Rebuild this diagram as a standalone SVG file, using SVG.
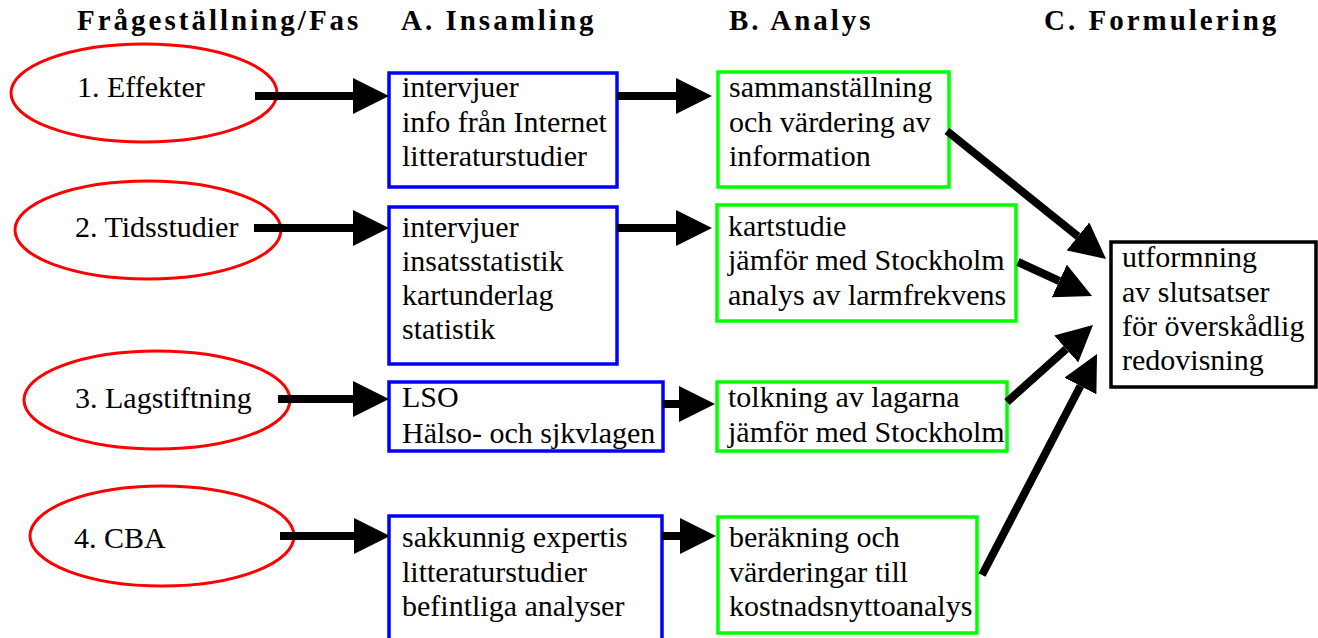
<svg xmlns="http://www.w3.org/2000/svg" width="1318" height="638" viewBox="0 0 1318 638">
<defs>
<style>
.hdr{font-family:'Liberation Serif','DejaVu Serif',serif;font-weight:bold;font-size:29px;letter-spacing:3px;fill:#000}
.t{font-family:'Liberation Serif','DejaVu Serif',serif;font-size:30px;fill:#000}
.ell{fill:#fff;stroke:#f00;stroke-width:3}
.boxA{fill:#fff;stroke:#00f;stroke-width:3.5}
.boxB{fill:#fff;stroke:#0f0;stroke-width:3.5}
.boxC{fill:#fff;stroke:#000;stroke-width:3.5}
.conn line{stroke:#000;stroke-width:8;marker-end:url(#ah)}
</style>
<marker id="ah" markerUnits="userSpaceOnUse" markerWidth="36" markerHeight="36" refX="0" refY="18" orient="auto" viewBox="0 0 36 36">
<path d="M0,0 L36,18 L0,36 Z" fill="#000"/>
</marker>
</defs>
<rect width="1318" height="638" fill="#fff"/>
<g id="headers">
<text class="hdr" x="77" y="30">Frågeställning/Fas</text>
<text class="hdr" x="401" y="30">A. Insamling</text>
<text class="hdr" x="729" y="30">B. Analys</text>
<text class="hdr" x="1044" y="30">C. Formulering</text>
</g>
<g id="q1"><ellipse class="ell" cx="144" cy="93" rx="133" ry="49"/><text class="t" x="77" y="97">1. Effekter</text></g>
<g id="q2"><ellipse class="ell" cx="148" cy="230" rx="133" ry="49"/><text class="t" x="75" y="237">2. Tidsstudier</text></g>
<g id="q3"><ellipse class="ell" cx="157" cy="400" rx="133" ry="49"/><text class="t" x="75" y="408">3. Lagstiftning</text></g>
<g id="q4"><ellipse class="ell" cx="162" cy="536" rx="132" ry="50"/><text class="t" x="74" y="548">4. CBA</text></g>
<g id="a1"><rect class="boxA" x="389" y="73" width="228" height="114"/><text class="t"><tspan x="402" y="97">intervjuer</tspan><tspan x="402" y="132">info från Internet</tspan><tspan x="402" y="166">litteraturstudier</tspan></text></g>
<g id="a2"><rect class="boxA" x="389" y="207" width="228" height="157"/><text class="t"><tspan x="402" y="237">intervjuer</tspan><tspan x="402" y="271">insatsstatistik</tspan><tspan x="402" y="305">kartunderlag</tspan><tspan x="402" y="339">statistik</tspan></text></g>
<g id="a3"><rect class="boxA" x="389" y="382" width="274" height="69"/><text class="t"><tspan x="402" y="407">LSO</tspan><tspan x="402" y="443">Hälso- och sjkvlagen</tspan></text></g>
<g id="a4"><rect class="boxA" x="389" y="516" width="273" height="140"/><text class="t"><tspan x="402" y="547">sakkunnig expertis</tspan><tspan x="402" y="582">litteraturstudier</tspan><tspan x="402" y="616">befintliga analyser</tspan></text></g>
<g id="b1"><rect class="boxB" x="718" y="72" width="231" height="115"/><text class="t"><tspan x="729" y="97">sammanställning</tspan><tspan x="729" y="132">och värdering av</tspan><tspan x="729" y="166">information</tspan></text></g>
<g id="b2"><rect class="boxB" x="717" y="205" width="299" height="116"/><text class="t"><tspan x="728" y="236">kartstudie</tspan><tspan x="728" y="270">jämför med Stockholm</tspan><tspan x="728" y="305">analys av larmfrekvens</tspan></text></g>
<g id="b3"><rect class="boxB" x="717" y="382" width="290" height="69"/><text class="t"><tspan x="728" y="407">tolkning av lagarna</tspan><tspan x="728" y="442">jämför med Stockholm</tspan></text></g>
<g id="b4"><rect class="boxB" x="718" y="517" width="259" height="116"/><text class="t"><tspan x="729" y="547">beräkning och</tspan><tspan x="729" y="582">värderingar till</tspan><tspan x="729" y="616">kostnadsnyttoanalys</tspan></text></g>
<g id="c"><rect class="boxC" x="1111" y="242" width="205" height="145"/><text class="t"><tspan x="1122" y="267">utformning</tspan><tspan x="1122" y="302">av slutsatser</tspan><tspan x="1122" y="336">för överskådlig</tspan><tspan x="1122" y="370">redovisning</tspan></text></g>
<g id="connectors" class="conn">
<line x1="255" y1="96" x2="353" y2="96"/>
<line x1="254" y1="228" x2="353" y2="228"/>
<line x1="278" y1="399" x2="353" y2="399"/>
<line x1="280" y1="536" x2="354" y2="536"/>
<line x1="617" y1="96" x2="676" y2="96"/>
<line x1="617" y1="228" x2="676" y2="228"/>
<line x1="663" y1="404" x2="679" y2="404"/>
<line x1="662" y1="536" x2="680" y2="536"/>
<line x1="947" y1="131" x2="1078" y2="236.4"/>
<line x1="1018" y1="262" x2="1059.3" y2="281"/>
<line x1="1007" y1="402" x2="1066.2" y2="349"/>
<line x1="982" y1="575" x2="1080.4" y2="386"/>
</g>
</svg>
